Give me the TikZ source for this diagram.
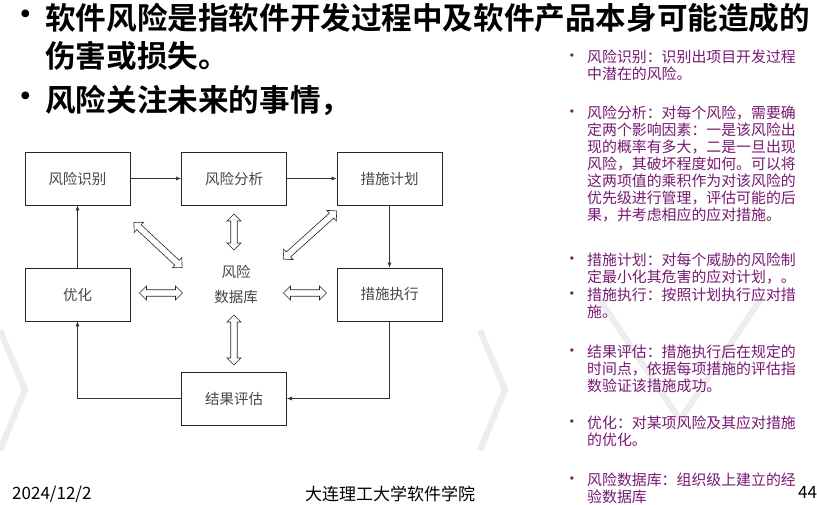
\documentclass[tikz,border=0pt]{standalone}
\usepackage{fontspec}
\setmainfont{Liberation Sans}
\newfontfamily\cjk{Noto Sans CJK SC}[BoldFont={Noto Sans CJK SC Bold}]
\usetikzlibrary{shapes.arrows,arrows.meta}
\definecolor{pur}{RGB}{120,25,115}
\definecolor{boxtxt}{RGB}{70,70,70}
\begin{document}
\begin{tikzpicture}[x=1pt,y=-1pt,
  box/.style={draw=black!85,line width=0.7pt,minimum width=105pt,minimum height=53pt,inner sep=0pt,font=\cjk\fontsize{14.5}{16}\selectfont,text=boxtxt},
  flow/.style={draw=black!80,line width=0.6pt,-{Latex[length=5pt,width=4pt]}},
  dbl/.style={double arrow,draw=black!85,line width=0.6pt,fill=white,inner sep=2.8pt,double arrow head extend=3.5pt,minimum width=14pt},
  big/.style={anchor=west,font=\cjk\bfseries\fontsize{30.6}{32}\selectfont,inner sep=0pt},
  side/.style={anchor=west,font=\cjk\fontsize{14.9}{16}\selectfont,text=pur,inner sep=0pt},
  sbul/.style={anchor=center,font=\fontsize{12}{14}\selectfont,text=pur,inner sep=0pt},
  foot/.style={anchor=north west,font=\cjk\fontsize{17}{19}\selectfont,inner sep=0pt}]
\useasboundingbox[fill=white] (0,0) rectangle (817,505);
% faint watermark
\begin{scope}[draw=black!7,line width=6pt]
\draw (0,330) -- (25,390) -- (0,450);
\draw (480,330) -- (505,390) -- (480,450);
\draw (600,300) -- (680,420) -- (760,300);
\end{scope}
% title
\node[big] (b1) at (10,18) {•};
\node[big] (t1) at (45,18) {软件风险是指软件开发过程中及软件产品本身可能造成的};
\node[big] (t2) at (45,56) {伤害或损失。};
\node[big] (b2) at (10,100) {•};
\node[big] (t3) at (45,100) {风险关注未来的事情，};
% boxes
\node[box] (sb) at (77.5,178.5) {风险识别};
\node[box] (fx) at (234,178.5) {风险分析};
\node[box] (jh) at (389.5,178.5) {措施计划};
\node[box] (yh) at (77.5,294.5) {优化};
\node[box] (zx) at (389.5,294.5) {措施执行};
\node[box] (pg) at (234,398.5) {结果评估};
\node[font=\cjk\fontsize{14.5}{25}\selectfont,text=boxtxt,align=center,inner sep=0pt] (db) at (236,284) {风险\\数据库};
\draw[flow] (sb) -- (fx);
\draw[flow] (fx) -- (jh);
\draw[flow] (jh) -- (zx);
\draw[flow] (zx.south) |- (pg.east);
\draw[flow] (pg.west) -| (yh.south);
\draw[flow] (yh) -- (sb);
% double arrows
\node[dbl,minimum height=66pt,rotate=-43] (d1) at (158,245) {};
\node[dbl,minimum height=36pt,rotate=90] (d2) at (234,232) {};
\node[dbl,minimum height=72pt,rotate=42] (d3) at (310,235) {};
\node[dbl,minimum height=43pt] (d4) at (161,293) {};
\node[dbl,minimum height=43pt] (d5) at (305,293) {};
\node[dbl,minimum height=50pt,rotate=90] (d6) at (234,340) {};
% side notes
\foreach \y in {57,113,260,295,352,423,480} \node[sbul] at (572,\y) {•};
\node[side] at (587,57) {风险识别：识别出项目开发过程};
\node[side] at (587,74) {中潜在的风险。};
\node[side] at (587,113) {风险分析：对每个风险，需要确};
\node[side] at (587,130) {定两个影响因素：一是该风险出};
\node[side] at (587,147) {现的概率有多大，二是一旦出现};
\node[side] at (587,164) {风险，其破坏程度如何。可以将};
\node[side] at (587,181) {这两项值的乘积作为对该风险的};
\node[side] at (587,198) {优先级进行管理，评估可能的后};
\node[side] at (587,215) {果，并考虑相应的应对措施。};
\node[side] at (587,260) {措施计划：对每个威胁的风险制};
\node[side] at (587,277) {定最小化其危害的应对计划，。};
\node[side] at (587,295) {措施执行：按照计划执行应对措};
\node[side] at (587,312) {施。};
\node[side] at (587,352) {结果评估：措施执行后在规定的};
\node[side] at (587,369) {时间点，依据每项措施的评估指};
\node[side] at (587,386) {数验证该措施成功。};
\node[side] at (587,423) {优化：对某项风险及其应对措施};
\node[side] at (587,440) {的优化。};
\node[side] at (587,480) {风险数据库：组织级上建立的经};
\node[side] at (587,497) {验数据库};
% footer
\node[foot] (f1) at (12,486) {2024/12/2};
\node[foot] (f2) at (305,486) {大连理工大学软件学院};
\node[foot] (f3) at (798,486) {44};
\end{tikzpicture}
\end{document}
